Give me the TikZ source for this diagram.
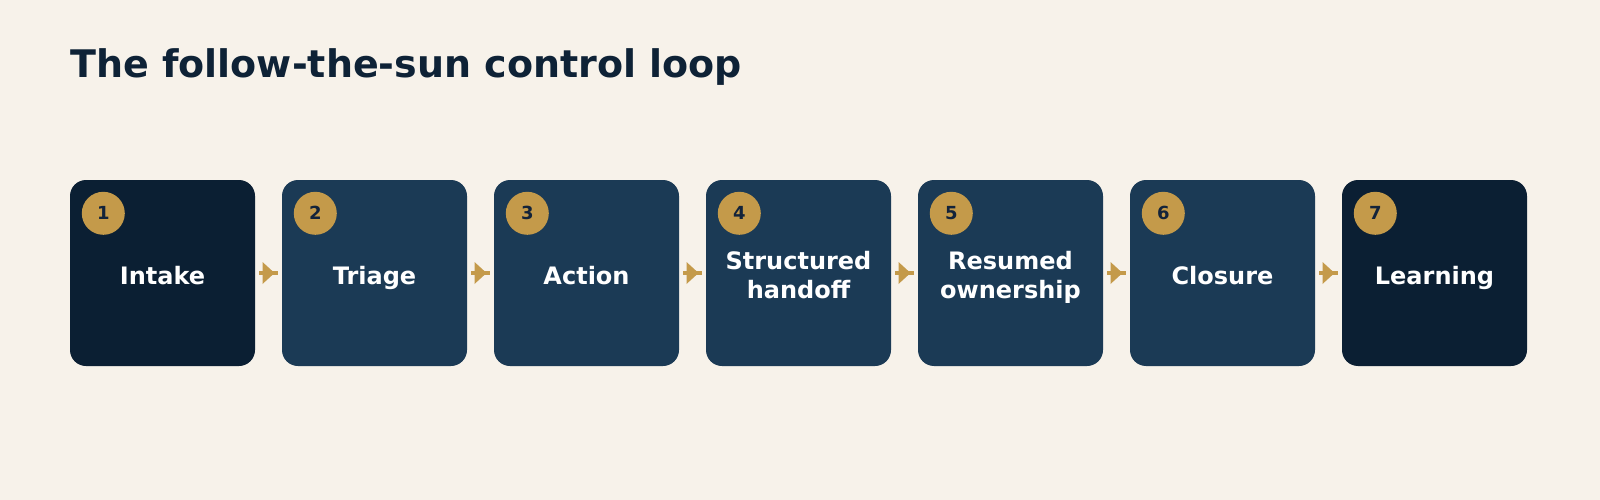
\documentclass[tikz,border=0pt]{standalone}
\usepackage{fontspec}
\setmainfont{DejaVu Sans}[BoldFont={DejaVu Sans Bold}]
\newfontfamily\boldface{DejaVu Sans Bold}
\usetikzlibrary{decorations.markings}
\definecolor{bgc}{HTML}{F7F2EA}
\definecolor{darkbox}{HTML}{0B1F33}
\definecolor{midbox}{HTML}{1B3A55}
\definecolor{goldc}{HTML}{C49A4A}
\definecolor{titlec}{HTML}{0E2236}
\definecolor{numc}{HTML}{13233A}
\tikzset{
  x=1pt, y=-1pt,
  stepbox/.style={rounded corners=16pt, minimum width=185pt, minimum height=186pt, inner sep=0pt, text=white, align=center, font=\boldface\fontsize{24}{29}\selectfont},
  oneline/.style={text height=22.6pt, text depth=0pt},
  twoline/.style={text height=50.6pt, text depth=0pt},
  darkstep/.style={stepbox, fill=darkbox},
  midstep/.style={stepbox, fill=midbox},
  badge/.style={circle, fill=goldc, minimum size=43pt, inner sep=0pt, text=numc, font=\boldface\fontsize{18}{18}\selectfont},
  flow/.style={draw=goldc, line width=4pt, shorten <=4pt, shorten >=4pt,
    postaction={decorate, decoration={markings, mark=at position 0.5 with {\fill[goldc] (-6pt,-11pt) -- (6pt,0pt) -- (-6pt,11pt) -- cycle;}}}},
}
\begin{document}
\begin{tikzpicture}
\fill[bgc] (0,0) rectangle (1600,500);
\useasboundingbox (0,0) rectangle (1600,500);
\node[anchor=base west, text=titlec, font=\boldface\fontsize{38}{38}\selectfont, inner sep=0pt] (title) at (70,77.3) {The follow-the-sun control loop};
\foreach \i/\lab/\sty/\ln in {1/Intake/darkstep/oneline, 2/Triage/midstep/oneline, 3/Action/midstep/oneline, 4/{Structured\\handoff}/midstep/twoline, 5/{Resumed\\ownership}/midstep/twoline, 6/Closure/midstep/oneline, 7/Learning/darkstep/oneline}{
  \node[\sty, \ln] (b\i) at ({70+92.5+212*(\i-1)},273) {\lab};
  \node[badge] (n\i) at ({70+33.3+212*(\i-1)},213.3) {\i};
}
\foreach \i [evaluate=\i as \j using int(\i+1)] in {1,...,6}{
  \draw[flow] (b\i.east) -- (b\j.west);
}
\end{tikzpicture}
\end{document}
